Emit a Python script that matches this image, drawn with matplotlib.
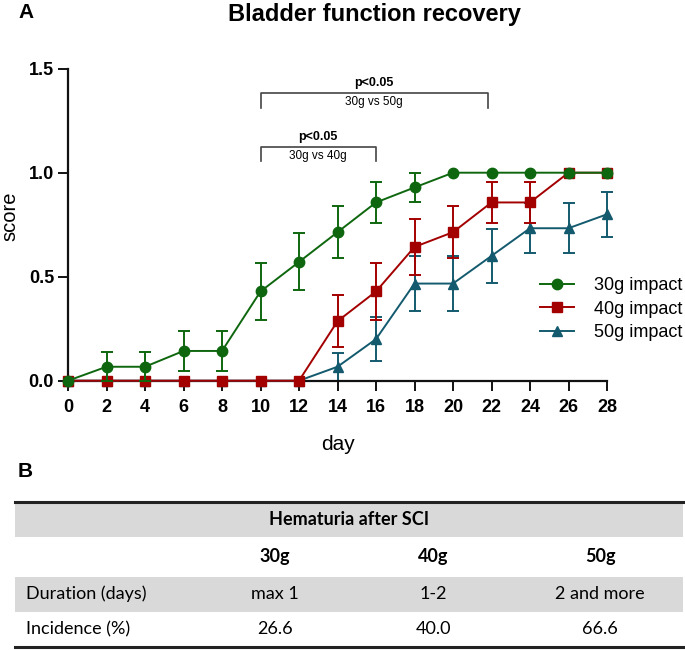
import numpy as np
import matplotlib
matplotlib.use("Agg")
import matplotlib.pyplot as plt
from matplotlib.patches import Rectangle

# ---- data (panel A) ----
days = [0, 2, 4, 6, 8, 10, 12, 14, 16, 18, 20, 22, 24, 26, 28]

score_30g = [0, 0.067, 0.067, 0.143, 0.143, 0.429, 0.571, 0.714, 0.857, 0.929, 1, 1, 1, 1, 1]
err_30g = [0, 0.07, 0.07, 0.095, 0.095, 0.137, 0.137, 0.126, 0.097, 0.071, 0, 0, 0, 0, 0]

score_40g = [0, 0, 0, 0, 0, 0, 0, 0.286, 0.429, 0.643, 0.714, 0.857, 0.857, 1, 1]
err_40g = [0, 0, 0, 0, 0, 0, 0, 0.125, 0.137, 0.133, 0.125, 0.097, 0.097, 0, 0]

score_50g = [0, 0, 0, 0, 0, 0, 0, 0.067, 0.2, 0.467, 0.467, 0.6, 0.733, 0.733, 0.8]
err_50g = [0, 0, 0, 0, 0, 0, 0, 0.067, 0.106, 0.133, 0.133, 0.131, 0.119, 0.119, 0.107]

# significance brackets: (x start, x end, height, comparison)
brackets = [(10, 21.8, 1.382, "30g vs 50g"), (10, 16, 1.125, "30g vs 40g")]

# ---- data (panel B) ----
table_title = "Hematuria after SCI"
table_groups = ["30g", "40g", "50g"]
table_rows = ["Duration (days)", "Incidence (%)"]
duration = ["max 1", "1-2", "2 and more"]
incidence = ["26.6", "40.0", "66.6"]

GREEN = "#0e670e"
RED = "#a30000"
BLUE = "#135a6e"

plt.rcParams["font.family"] = ["Liberation Sans", "DejaVu Sans"]

fig = plt.figure(figsize=(6.85, 6.5), dpi=100)
W, H = 685, 650

ax = fig.add_axes([68 / W, 1 - 380.7 / H, 539 / W, 312 / H])

series = [
    ("30g impact", score_30g, err_30g, GREEN, "o", 7.5, 5),
    ("40g impact", score_40g, err_40g, RED, "s", 7.0, 4),
    ("50g impact", score_50g, err_50g, BLUE, "^", 7.5, 3),
]

handles = []
for label, y, e, col, mk, ms, z in series:
    x = np.array(days)
    y = np.array(y)
    e = np.array(e)
    line, = ax.plot(x, y, marker=mk, color=col, ms=ms, lw=1.4, label=label,
                    clip_on=False, zorder=z)
    m = e > 0
    ax.errorbar(x[m], y[m], yerr=e[m], fmt="none", ecolor=col, elinewidth=1.4,
                capsize=4, capthick=1.4, clip_on=False, zorder=z - 0.5)
    handles.append(line)

ax.set_xlim(0, 28)
ax.set_ylim(0, 1.5)
ax.set_xticks(days)
ax.set_yticks([0, 0.5, 1.0, 1.5])
ax.set_yticklabels(["0.0", "0.5", "1.0", "1.5"])
for s in ["top", "right"]:
    ax.spines[s].set_visible(False)
for s in ["left", "bottom"]:
    ax.spines[s].set_linewidth(1.6)
    ax.spines[s].set_color("#111111")
ax.tick_params(direction="out", length=7, width=1.4, color="#111111")
ax.tick_params(axis="x", pad=6)
ax.tick_params(axis="y", pad=3)
for t in ax.get_xticklabels() + ax.get_yticklabels():
    t.set_fontweight("bold")
    t.set_fontsize(13)
ax.set_xlabel("day", fontsize=15, labelpad=14)
ax.set_ylabel("score", fontsize=14.5)
ax.yaxis.set_label_coords(-0.09, 0.526)

for x0, x1, yb, comp in brackets:
    ax.plot([x0, x0, x1, x1], [yb - 0.07, yb, yb, yb - 0.07], color="#444444",
            lw=1.2, clip_on=False)
    ax.text((x0 + x1) / 2, yb + 0.02, "p<0.05", ha="center", va="bottom",
            fontsize=9, fontweight="bold")
    ax.text((x0 + x1) / 2, yb - 0.015, comp, ha="center", va="top", fontsize=8.5)

fig.legend(handles=handles, loc="center left", frameon=False,
           bbox_to_anchor=(540 / W, 1 - 309 / H), fontsize=13,
           handlelength=1.9, handletextpad=1.1, labelspacing=0.35,
           borderpad=0, borderaxespad=0)

fig.text(374 / W, 1 - 14 / H, "Bladder function recovery", ha="center",
         va="center", fontsize=17, fontweight="bold")
fig.text(18 / W, 1 - 12.5 / H, "A", ha="left", va="center", fontsize=15,
         fontweight="bold")
fig.text(18 / W, 1 - 471.7 / H, "B", ha="left", va="center", fontsize=15,
         fontweight="bold")

# ---- panel B table ----
tx0, tx1 = 15, 683
row_edges = [501.7, 536.7, 576.7, 611.7, 646.7]
tab = fig.add_axes([tx0 / W, 1 - row_edges[-1] / H, (tx1 - tx0) / W,
                    (row_edges[-1] - row_edges[0]) / H])
tab.set_xlim(tx0, tx1)
tab.set_ylim(row_edges[-1], row_edges[0])
tab.axis("off")

shade = "#d9d9d9"
for r in [0, 2]:
    tab.add_patch(Rectangle((tx0, row_edges[r]), tx1 - tx0,
                            row_edges[r + 1] - row_edges[r], color=shade, lw=0))
tab.plot([tx0, tx1], [row_edges[0], row_edges[0]], color="#222222", lw=2.2,
         clip_on=False)
tab.plot([tx0, tx1], [row_edges[-1], row_edges[-1]], color="#222222", lw=2.2,
         clip_on=False)

col_x = [275, 433, 600]
mid = [(row_edges[i] + row_edges[i + 1]) / 2 for i in range(4)]
tfont = ["Lato", "DejaVu Sans"]
tab.text((tx0 + tx1) / 2, mid[0], table_title, ha="center", va="center",
         fontsize=13, fontweight="bold", family=tfont)
for cx, g in zip(col_x, table_groups):
    tab.text(cx, mid[1], g, ha="center", va="center", fontsize=13,
             fontweight="bold", family=tfont)
for r, (name, vals) in enumerate(zip(table_rows, [duration, incidence])):
    tab.text(26, mid[2 + r], name, ha="left", va="center", fontsize=13,
             family=tfont)
    for cx, v in zip(col_x, vals):
        tab.text(cx, mid[2 + r], v, ha="center", va="center", fontsize=13,
                 family=tfont)

fig.savefig("out.png", dpi=100)
